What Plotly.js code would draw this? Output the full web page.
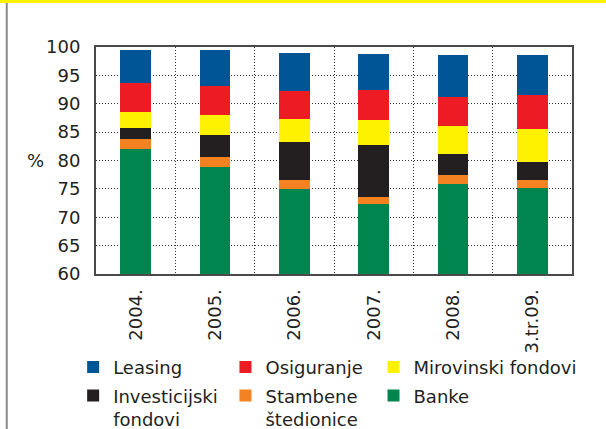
<!DOCTYPE html>
<html>
<head>
<meta charset="utf-8">
<script src="https://cdn.plot.ly/plotly-3.0.1.min.js"></script>
<style>html,body{margin:0;padding:0;background:#fff;}#chart{width:606px;height:429px;}</style>
</head>
<body>
<div id="chart"></div>
<script>
const categories = ["2004.", "2005.", "2006.", "2007.", "2008.", "3.tr.09."];
const banke        = [82.1, 78.9, 75.0, 72.4, 75.9, 75.2];
const stambene     = [1.7, 1.8, 1.6, 1.2, 1.6, 1.4];
const investicijski= [2.0, 3.8, 6.7, 9.2, 3.7, 3.2];
const mirovinski   = [2.8, 3.6, 4.1, 4.4, 4.8, 5.8];
const osiguranje   = [5.1, 5.1, 4.9, 5.3, 5.2, 6.0];
const leasing      = [5.8, 6.3, 6.7, 6.3, 7.4, 7.0];

const FONT = "DejaVu Sans";
const TXT = "#231f20";

function bar(name, y, color, legend, rank) {
  return {
    type: "bar", name: name, x: categories, y: y,
    marker: {color: color, line: {width: 0}},
    legend: legend, legendgroup: name, legendrank: rank, hoverinfo: "skip"
  };
}

const data = [
  bar("Banke", banke, "#00854f", "legend3", 2),
  bar("Stambene<br>štedionice", stambene, "#f58220", "legend2", 2),
  bar("Investicijski<br>fondovi", investicijski, "#231f20", "legend", 2),
  bar("Mirovinski fondovi", mirovinski, "#fff200", "legend3", 1),
  bar("Osiguranje", osiguranje, "#ed1c24", "legend2", 1),
  bar("Leasing", leasing, "#005596", "legend", 1)
];

function leg(x) {
  return {
    x: x, xanchor: "left", y: -0.33, yanchor: "top",
    orientation: "v", traceorder: "grouped", tracegroupgap: 2,
    valign: "top", bgcolor: "rgba(0,0,0,0)",
    font: {family: FONT, size: 18, color: TXT}
  };
}

const layout = {
  width: 606, height: 429,
  margin: {l: 96, r: 34, t: 47, b: 155, autoexpand: false},
  paper_bgcolor: "#fff", plot_bgcolor: "#fff",
  barmode: "stack", bargap: 0.61,
  font: {family: FONT, size: 18, color: TXT},
  showlegend: true,
  legend: leg(-0.048),
  legend2: leg(0.272),
  legend3: leg(0.583),
  xaxis: {
    type: "category", tickson: "boundaries", ticks: "",
    showgrid: true, gridcolor: "#333", griddash: "1px,2px", gridwidth: 1,
    showline: true, mirror: true, linecolor: "#4a4a4a", linewidth: 2,
    tickangle: -90, ticklabelstandoff: 6, automargin: false,
    tickfont: {family: FONT, size: 18, color: TXT},
    fixedrange: true
  },
  yaxis: {
    range: [60, 100], dtick: 5, tick0: 60, ticks: "",
    showgrid: true, gridcolor: "#333", griddash: "1px,2px", gridwidth: 1,
    showline: true, mirror: true, linecolor: "#4a4a4a", linewidth: 2,
    zeroline: false, ticklabelstandoff: 10, automargin: false,
    tickfont: {family: FONT, size: 18, color: TXT},
    fixedrange: true
  },
  annotations: [
    {text: "%", xref: "paper", yref: "y", x: -0.128, y: 80, xanchor: "center", yanchor: "middle",
     showarrow: false, font: {family: FONT, size: 18, color: TXT}}
  ],
  shapes: [
    {type: "rect", xref: "paper", yref: "paper", x0: -0.25, x1: 1.1, y0: 1.194, y1: 1.25,
     fillcolor: "#fff200", line: {width: 0}, layer: "above"},
    {type: "line", xref: "paper", yref: "paper", x0: -0.1875, x1: -0.1875, y0: -0.75, y1: 1.194,
     line: {color: "#8a8a8a", width: 2}}
  ]
};

Plotly.newPlot("chart", data, layout, {displayModeBar: false, staticPlot: true});
</script>
</body>
</html>
